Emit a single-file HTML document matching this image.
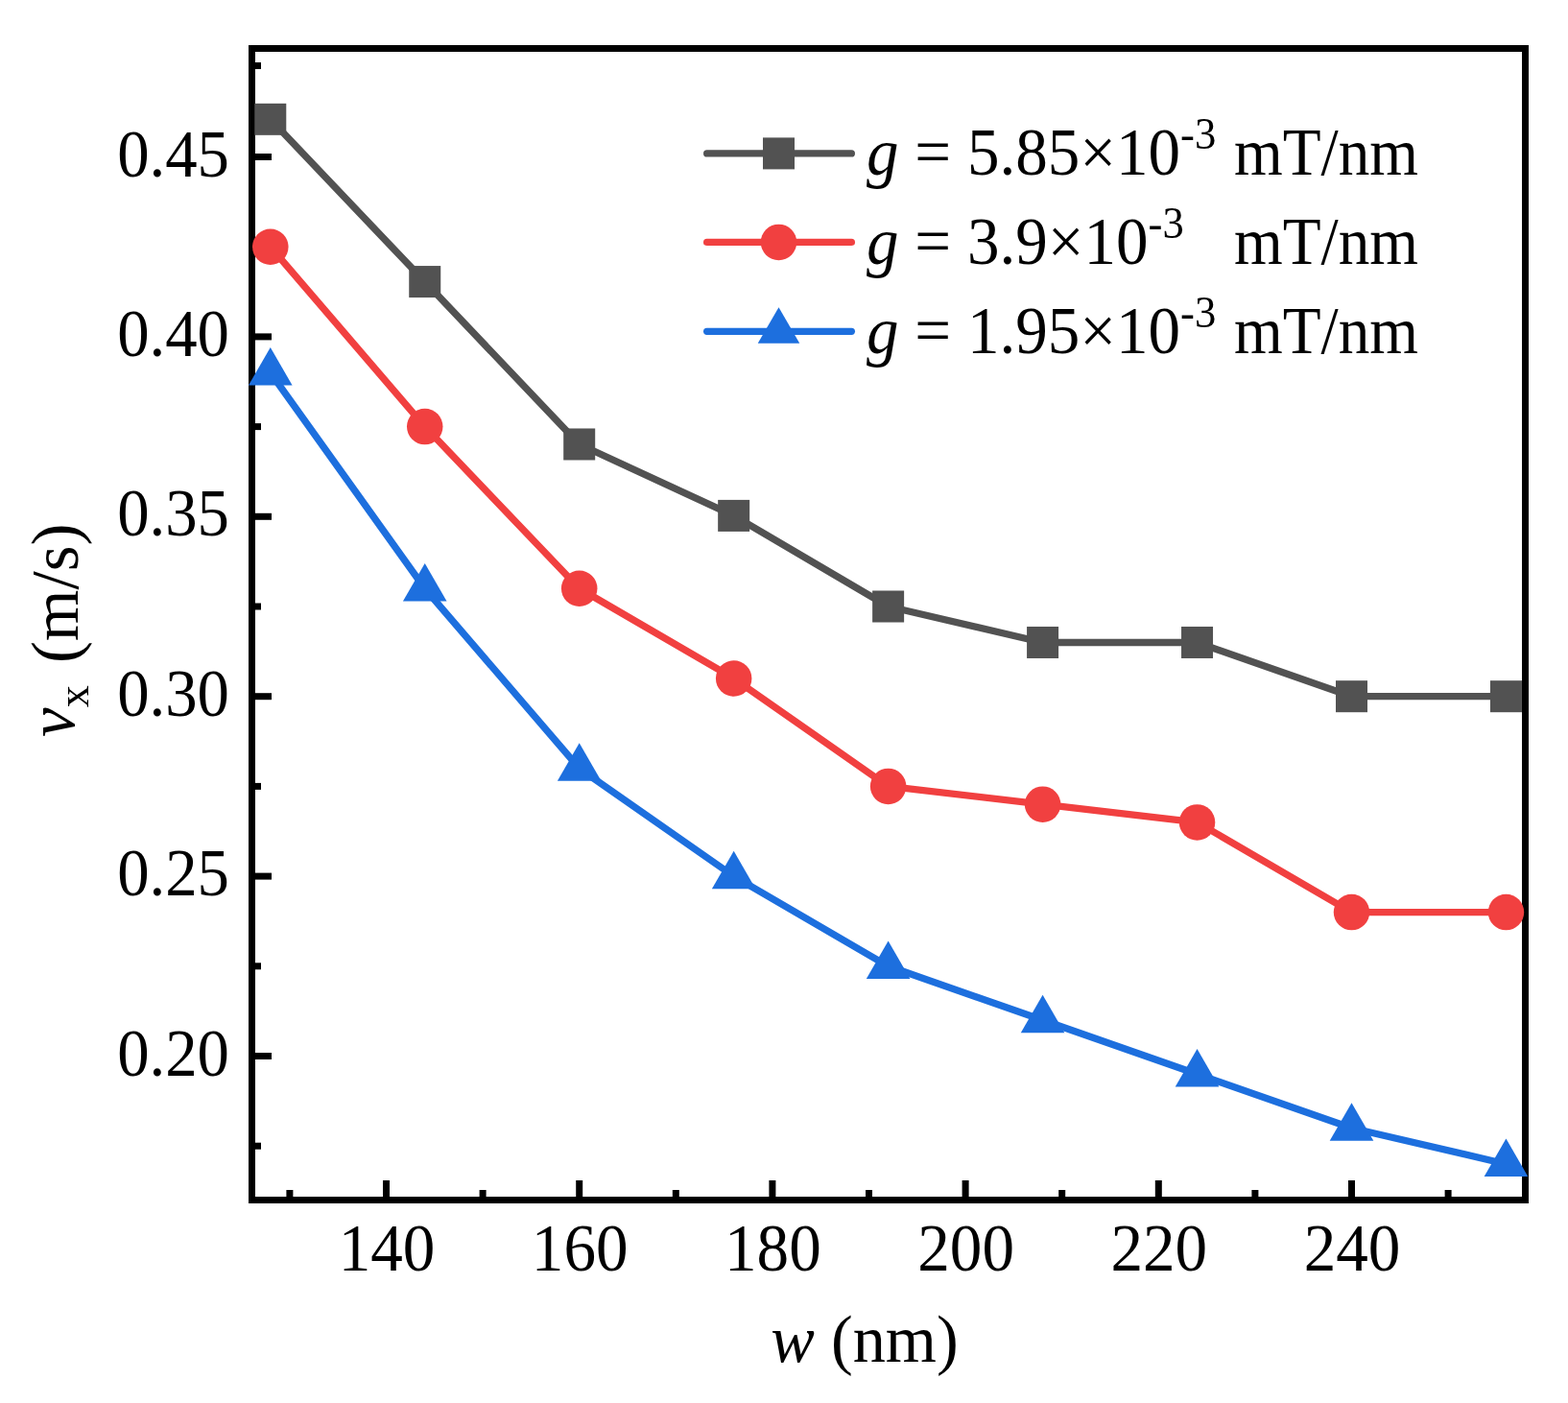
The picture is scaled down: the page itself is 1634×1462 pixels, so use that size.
<!DOCTYPE html>
<html><head><meta charset="utf-8"><title>v_x versus w</title>
<style>
html,body{margin:0;padding:0;background:#fff;overflow:hidden;}
svg{display:block;}
text{font-family:"Liberation Serif","Times New Roman",serif;fill:#000;}
</style></head><body>
<svg width="1634" height="1462" viewBox="0 0 1634 1462">
<rect width="1634" height="1462" fill="#fff"/>
<rect x="262.5" y="50.5" width="1327" height="1200" fill="none" stroke="#000" stroke-width="7"/>
<g fill="#000"><rect x="266" y="160" width="17" height="7"/><rect x="266" y="347.4" width="17" height="7"/><rect x="266" y="534.8" width="17" height="7"/><rect x="266" y="722.2" width="17" height="7"/><rect x="266" y="909.6" width="17" height="7"/><rect x="266" y="1097" width="17" height="7"/><rect x="266" y="65" width="6" height="7"/><rect x="266" y="253.7" width="6" height="7"/><rect x="266" y="441.1" width="6" height="7"/><rect x="266" y="628.5" width="6" height="7"/><rect x="266" y="815.9" width="6" height="7"/><rect x="266" y="1003.3" width="6" height="7"/><rect x="266" y="1190.7" width="6" height="7"/><rect x="399" y="1230" width="7" height="17"/><rect x="600.2" y="1230" width="7" height="17"/><rect x="801.4" y="1230" width="7" height="17"/><rect x="1002.6" y="1230" width="7" height="17"/><rect x="1203.8" y="1230" width="7" height="17"/><rect x="1405" y="1230" width="7" height="17"/><rect x="298.4" y="1240" width="7" height="7"/><rect x="499.6" y="1240" width="7" height="7"/><rect x="700.8" y="1240" width="7" height="7"/><rect x="902" y="1240" width="7" height="7"/><rect x="1103.2" y="1240" width="7" height="7"/><rect x="1304.4" y="1240" width="7" height="7"/><rect x="1505.6" y="1240" width="7" height="7"/></g>
<g>
<polyline points="281.78,124.33 442.74,293.56 603.7,462.97 764.66,537.4 925.62,632 1086.58,669.48 1247.54,669.48 1408.5,725.7 1569.46,725.7" fill="none" stroke="#525252" stroke-width="7.3" stroke-linejoin="round"/>
<rect x="265.28" y="107.83" width="33" height="33" fill="#525252"/>
<rect x="426.24" y="277.06" width="33" height="33" fill="#525252"/>
<rect x="587.2" y="446.47" width="33" height="33" fill="#525252"/>
<rect x="748.16" y="520.9" width="33" height="33" fill="#525252"/>
<rect x="909.12" y="615.5" width="33" height="33" fill="#525252"/>
<rect x="1070.08" y="652.98" width="33" height="33" fill="#525252"/>
<rect x="1231.04" y="652.98" width="33" height="33" fill="#525252"/>
<rect x="1392" y="709.2" width="33" height="33" fill="#525252"/>
<rect x="1552.96" y="709.2" width="33" height="33" fill="#525252"/>
<polyline points="281.78,257.2 442.74,444.6 603.7,613.26 764.66,706.96 925.62,819.4 1086.58,838.14 1247.54,856.88 1408.5,950.58 1569.46,950.58" fill="none" stroke="#F14040" stroke-width="7.3" stroke-linejoin="round"/>
<circle cx="281.78" cy="257.2" r="18.75" fill="#F14040"/>
<circle cx="442.74" cy="444.6" r="18.75" fill="#F14040"/>
<circle cx="603.7" cy="613.26" r="18.75" fill="#F14040"/>
<circle cx="764.66" cy="706.96" r="18.75" fill="#F14040"/>
<circle cx="925.62" cy="819.4" r="18.75" fill="#F14040"/>
<circle cx="1086.58" cy="838.14" r="18.75" fill="#F14040"/>
<circle cx="1247.54" cy="856.88" r="18.75" fill="#F14040"/>
<circle cx="1408.5" cy="950.58" r="18.75" fill="#F14040"/>
<circle cx="1569.46" cy="950.58" r="18.75" fill="#F14040"/>
<polyline points="281.78,388.38 442.74,613.26 603.7,800.66 764.66,913.1 925.62,1006.8 1086.58,1063.02 1247.54,1119.24 1408.5,1175.46 1569.46,1212.94" fill="none" stroke="#1D6FDE" stroke-width="7.3" stroke-linejoin="round"/>
<polygon points="281.78,362.05 258.98,401.55 304.58,401.55" fill="#1D6FDE"/>
<polygon points="442.74,586.93 419.94,626.43 465.54,626.43" fill="#1D6FDE"/>
<polygon points="603.7,774.33 580.9,813.83 626.5,813.83" fill="#1D6FDE"/>
<polygon points="764.66,886.77 741.86,926.27 787.46,926.27" fill="#1D6FDE"/>
<polygon points="925.62,980.47 902.82,1019.97 948.42,1019.97" fill="#1D6FDE"/>
<polygon points="1086.58,1036.69 1063.78,1076.19 1109.38,1076.19" fill="#1D6FDE"/>
<polygon points="1247.54,1092.91 1224.74,1132.41 1270.34,1132.41" fill="#1D6FDE"/>
<polygon points="1408.5,1149.13 1385.7,1188.63 1431.3,1188.63" fill="#1D6FDE"/>
<polygon points="1569.46,1186.61 1546.66,1226.11 1592.26,1226.11" fill="#1D6FDE"/>
</g>
<text transform="translate(239,183.5) scale(0.968,1)" font-size="69" text-anchor="end">0.45</text>
<text transform="translate(239,370.9) scale(0.968,1)" font-size="69" text-anchor="end">0.40</text>
<text transform="translate(239,558.3) scale(0.968,1)" font-size="69" text-anchor="end">0.35</text>
<text transform="translate(239,745.7) scale(0.968,1)" font-size="69" text-anchor="end">0.30</text>
<text transform="translate(239,933.1) scale(0.968,1)" font-size="69" text-anchor="end">0.25</text>
<text transform="translate(239,1120.5) scale(0.968,1)" font-size="69" text-anchor="end">0.20</text>
<text transform="translate(403,1324.4) scale(0.973,1)" font-size="69" text-anchor="middle">140</text>
<text transform="translate(604.2,1324.4) scale(0.973,1)" font-size="69" text-anchor="middle">160</text>
<text transform="translate(805.4,1324.4) scale(0.973,1)" font-size="69" text-anchor="middle">180</text>
<text transform="translate(1006.6,1324.4) scale(0.973,1)" font-size="69" text-anchor="middle">200</text>
<text transform="translate(1207.8,1324.4) scale(0.973,1)" font-size="69" text-anchor="middle">220</text>
<text transform="translate(1409,1324.4) scale(0.973,1)" font-size="69" text-anchor="middle">240</text>
<text transform="translate(901,1418.5) scale(0.99,1)" font-size="69" text-anchor="middle"><tspan font-style="italic">w</tspan> (nm)</text>
<text transform="translate(80.5,768) rotate(-90)" font-size="69"><tspan font-style="italic" dy="-3.5">v</tspan><tspan font-size="46" dy="14.5">x</tspan><tspan dx="6" dy="-11"> (m/s)</tspan></text>
<line x1="736.65" y1="159.9" x2="887.35" y2="159.9" stroke="#525252" stroke-width="7.3" stroke-linecap="round"/>
<rect x="795" y="143.4" width="33" height="33" fill="#525252"/>
<text transform="translate(903,182.2) scale(0.972,1)" font-size="69"><tspan font-style="italic">g</tspan> = 5.85&#215;10<tspan font-size="46" dy="-27">-3</tspan></text>
<text transform="translate(1286,182.2) scale(0.9455,1)" font-size="69">mT/nm</text>
<line x1="736.65" y1="252.4" x2="887.35" y2="252.4" stroke="#F14040" stroke-width="7.3" stroke-linecap="round"/>
<circle cx="811.5" cy="252.4" r="18.75" fill="#F14040"/>
<text transform="translate(903,274.7) scale(0.972,1)" font-size="69"><tspan font-style="italic">g</tspan> = 3.9&#215;10<tspan font-size="46" dy="-27">-3</tspan></text>
<text transform="translate(1286,274.7) scale(0.9455,1)" font-size="69">mT/nm</text>
<line x1="736.65" y1="345.3" x2="887.35" y2="345.3" stroke="#1D6FDE" stroke-width="7.3" stroke-linecap="round"/>
<polygon points="811.5,320.15 789.73,357.87 833.27,357.87" fill="#1D6FDE"/>
<text transform="translate(903,367.6) scale(0.972,1)" font-size="69"><tspan font-style="italic">g</tspan> = 1.95&#215;10<tspan font-size="46" dy="-27">-3</tspan></text>
<text transform="translate(1286,367.6) scale(0.9455,1)" font-size="69">mT/nm</text>
</svg>
</body></html>
